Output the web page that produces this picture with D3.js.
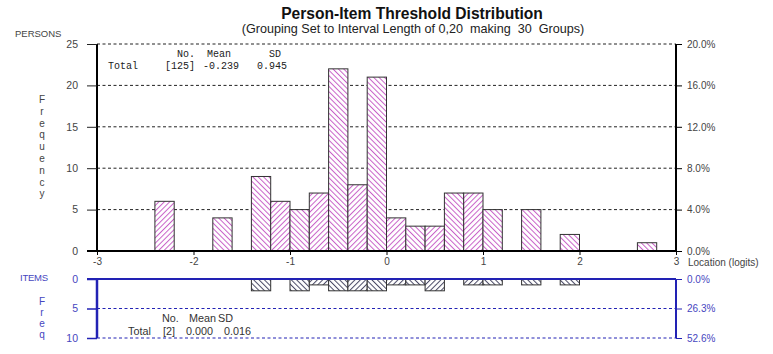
<!DOCTYPE html>
<html>
<head>
<meta charset="utf-8">
<script src="https://cdn.jsdelivr.net/npm/d3@7"></script>
<style>
body { margin: 0; background: #fff; }
svg { font-family: "Liberation Sans", Arial, sans-serif; }
</style>
</head>
<body>
<script>
// 30 groups of width 0.2 starting at -3
var binStart = -3;
var binWidth = 0.2;
var personCounts = [0, 0, 0, 6, 0, 0, 4, 0, 9, 6, 5, 7, 22, 8, 21, 4, 3, 3, 7, 7, 5, 0, 5, 0, 2, 0, 0, 0, 1, 0];
var itemCounts   = [0, 0, 0, 0, 0, 0, 0, 0, 2, 0, 2, 1, 2, 2, 2, 1, 1, 2, 0, 1, 1, 0, 1, 0, 1, 0, 0, 0, 0, 0];
var personTotal = 125;
var itemTotal = 19;
var xTicks = [-3, -2, -1, 0, 1, 2, 3];
var personTicks = [0, 5, 10, 15, 20, 25];
var pctTicks = [0, 4, 8, 12, 16, 20];
var itemTicks = [0, 5, 10];
var personStats = { head: ["No.", "Mean", "SD"], row: ["Total", "[125]", "-0.239", "0.945"] };
var itemStats = { head: ["No.", "Mean", "SD"], row: ["Total", "[2]", "0.000", "0.016"] };

var larg = 773, haut = 354;
var blue = "#2222b4", blueTxt = "#4646c0", grey = "#444";
var sans = "Liberation Sans, Arial, sans-serif";
var mono = "Liberation Mono, Courier New, monospace";

var svg = d3.select("body").append("svg")
	.attr("width", larg)
	.attr("height", haut);

// hatching
var defs = svg.append("defs");
function hatch(id, angle, color) {
	var p = defs.append("pattern")
		.attr("id", id)
		.attr("patternUnits", "userSpaceOnUse")
		.attr("width", 3.8).attr("height", 3.8)
		.attr("patternTransform", "rotate(" + angle + ")");
	p.append("rect").attr("width", 3.8).attr("height", 3.8).attr("fill", "#fff");
	p.append("line").attr("x1", 0.5).attr("y1", 0).attr("x2", 0.5).attr("y2", 3.8)
		.attr("stroke", color).attr("stroke-width", 1);
}
hatch("pBack", -45, "#c862c8");
hatch("pFwd", 45, "#c862c8");
hatch("iBack", -45, "#4a4a66");
hatch("iFwd", 45, "#4a4a66");

var xScale = d3.scaleLinear().domain([-3, 3]).range([97, 676]);
var yScale = d3.scaleLinear().domain([0, 25]).range([251, 44]);
var pctScale = d3.scaleLinear().domain([0, 25 / personTotal * 100]).range([251, 44]);
var iScale = d3.scaleLinear().domain([0, 10]).range([279, 338]);
var iPctScale = d3.scaleLinear().domain([0, 10 / itemTotal * 100]).range([279, 338]);

var bins = personCounts.map(function(d, i) {
	return { i: i, x0: binStart + i * binWidth, x1: binStart + (i + 1) * binWidth, p: d, it: itemCounts[i] };
});

// titles
svg.append("text").attr("x", 412).attr("y", 19).attr("text-anchor", "middle")
	.attr("font-size", "15.6px").attr("font-weight", "bold").attr("fill", "#111")
	.text("Person-Item Threshold Distribution");
svg.append("text").attr("x", 413).attr("y", 33).attr("text-anchor", "middle")
	.attr("font-size", "12.6px").attr("fill", "#222").style("white-space", "pre")
	.text("(Grouping Set to Interval Length of 0,20  making  30  Groups)");

svg.append("text").attr("x", 15).attr("y", 37).attr("font-size", "9.5px").attr("fill", grey).text("PERSONS");
svg.append("g").selectAll("text").data("Frequency".split("")).enter().append("text")
	.attr("x", 42).attr("y", function(d, i) { return 103 + i * 11.8; })
	.attr("text-anchor", "middle").attr("font-size", "10px").attr("fill", grey)
	.text(function(d) { return d; });

// grid
svg.append("g").selectAll("line").data(personTicks.slice(1)).enter().append("line")
	.attr("x1", 97).attr("x2", 676)
	.attr("y1", function(d) { return yScale(d); }).attr("y2", function(d) { return yScale(d); })
	.attr("stroke", "#222").attr("stroke-dasharray", "3,2.5");

// person bars
svg.append("g").selectAll("rect").data(bins.filter(function(d) { return d.p > 0; })).enter().append("rect")
	.attr("x", function(d) { return xScale(d.x0); })
	.attr("width", function(d) { return xScale(d.x1) - xScale(d.x0); })
	.attr("y", function(d) { return yScale(d.p); })
	.attr("height", function(d) { return yScale(0) - yScale(d.p); })
	.attr("fill", function(d) { return d.i % 2 ? "url(#pFwd)" : "url(#pBack)"; })
	.attr("stroke", "#333").attr("stroke-width", 1);

// left axis persons
var gL = svg.append("g").attr("transform", "translate(97,0)");
gL.call(d3.axisLeft(yScale).tickValues(d3.range(0, 26)).tickSize(6).tickFormat(""));
gL.call(d3.axisLeft(yScale).tickValues(personTicks).tickSize(10).tickPadding(9));
gL.selectAll(".domain").attr("stroke-width", 2).attr("d", "M0," + yScale(25) + "V" + yScale(0));
gL.selectAll("line").attr("stroke", "#222");
gL.selectAll("text").attr("font-size", "10.5px").attr("fill", grey).attr("font-family", sans);

// right axis persons
var gR = svg.append("g").attr("transform", "translate(676,0)");
gR.call(d3.axisRight(pctScale).tickValues(pctTicks).tickSize(6).tickPadding(5).tickFormat(function(d) { return d3.format(".1f")(d) + "%"; }));
gR.selectAll(".domain").attr("stroke-width", 2).attr("d", "M0," + yScale(25) + "V" + yScale(0));
gR.selectAll("text").attr("font-size", "10px").attr("fill", grey).attr("font-family", sans);

// x axis
var gX = svg.append("g").attr("transform", "translate(0,251)");
gX.call(d3.axisBottom(xScale).tickValues(xTicks).tickSize(4).tickPadding(3).tickFormat(function(d) { return String(d); }));
gX.selectAll(".domain").attr("stroke-width", 2).attr("d", "M87,0H676");
gX.selectAll("text").attr("font-size", "10px").attr("fill", grey).attr("font-family", sans);
svg.append("text").attr("x", 688).attr("y", 266).attr("font-size", "10px").attr("fill", grey).text("Location (logits)");

// stats persons (monospace)
var headX = [177, 207, 269], rowX = [108, 165, 203, 257];
svg.append("g").selectAll("text").data(personStats.head).enter().append("text")
	.attr("x", function(d, i) { return headX[i]; }).attr("y", 57)
	.style("font-family", mono).attr("font-size", "10px").attr("fill", "#222").text(function(d) { return d; });
svg.append("g").selectAll("text").data(personStats.row).enter().append("text")
	.attr("x", function(d, i) { return rowX[i]; }).attr("y", 69)
	.style("font-family", mono).attr("font-size", "10px").attr("fill", "#222").text(function(d) { return d; });

// items panel
svg.append("text").attr("x", 20).attr("y", 281).attr("font-size", "9.5px").attr("fill", blueTxt)
	.attr("textLength", 28).text("ITEMS");
svg.append("g").selectAll("text").data("Freq".split("")).enter().append("text")
	.attr("x", 42).attr("y", function(d, i) { return 305 + i * 11; })
	.attr("text-anchor", "middle").attr("font-size", "10px").attr("fill", blueTxt)
	.text(function(d) { return d; });

svg.append("g").selectAll("line").data(itemTicks.slice(1)).enter().append("line")
	.attr("x1", 97).attr("x2", 676)
	.attr("y1", function(d) { return iScale(d); }).attr("y2", function(d) { return iScale(d); })
	.attr("stroke", blue).attr("stroke-dasharray", "3,2.5");

svg.append("g").selectAll("rect").data(bins.filter(function(d) { return d.it > 0; })).enter().append("rect")
	.attr("x", function(d) { return xScale(d.x0); })
	.attr("width", function(d) { return xScale(d.x1) - xScale(d.x0); })
	.attr("y", iScale(0))
	.attr("height", function(d) { return iScale(d.it) - iScale(0); })
	.attr("fill", function(d) { return d.i % 2 ? "url(#iFwd)" : "url(#iBack)"; })
	.attr("stroke", "#333").attr("stroke-width", 1);

svg.append("line").attr("x1", 87).attr("x2", 676).attr("y1", iScale(0)).attr("y2", iScale(0))
	.attr("stroke", blue).attr("stroke-width", 2);

var gIL = svg.append("g").attr("transform", "translate(97,0)");
gIL.call(d3.axisLeft(iScale).tickValues(d3.range(0, 11)).tickSize(6).tickFormat(""));
gIL.call(d3.axisLeft(iScale).tickValues(itemTicks).tickSize(10).tickPadding(9));
gIL.selectAll(".domain").attr("stroke-width", 2.5).attr("stroke", blue).attr("d", "M0," + iScale(0) + "V" + iScale(10));
gIL.selectAll("line").attr("stroke", blue).attr("stroke-width", 1.5);
gIL.selectAll("text").attr("font-size", "10.5px").attr("fill", blueTxt).attr("font-family", sans);

var gIR = svg.append("g").attr("transform", "translate(676,0)");
gIR.call(d3.axisRight(iPctScale).tickValues(itemTicks.map(function(d) { return d / itemTotal * 100; }))
	.tickSize(6).tickPadding(5).tickFormat(function(d) { return d3.format(".1f")(d) + "%"; }));
gIR.selectAll(".domain").attr("stroke-width", 2).attr("stroke", blue).attr("d", "M0," + iScale(0) + "V" + iScale(10));
gIR.selectAll("line").attr("stroke", blue);
gIR.selectAll("text").attr("font-size", "10px").attr("fill", blueTxt).attr("font-family", sans);

var iHeadX = [162, 189, 218], iRowX = [128, 163, 186, 224];
svg.append("g").selectAll("text").data(itemStats.head).enter().append("text")
	.attr("x", function(d, i) { return iHeadX[i]; }).attr("y", 322)
	.attr("font-size", "10.8px").attr("fill", "#333").text(function(d) { return d; });
svg.append("g").selectAll("text").data(itemStats.row).enter().append("text")
	.attr("x", function(d, i) { return iRowX[i]; }).attr("y", 335)
	.attr("font-size", "10.8px").attr("fill", "#333").text(function(d) { return d; });
</script>
</body>
</html>
